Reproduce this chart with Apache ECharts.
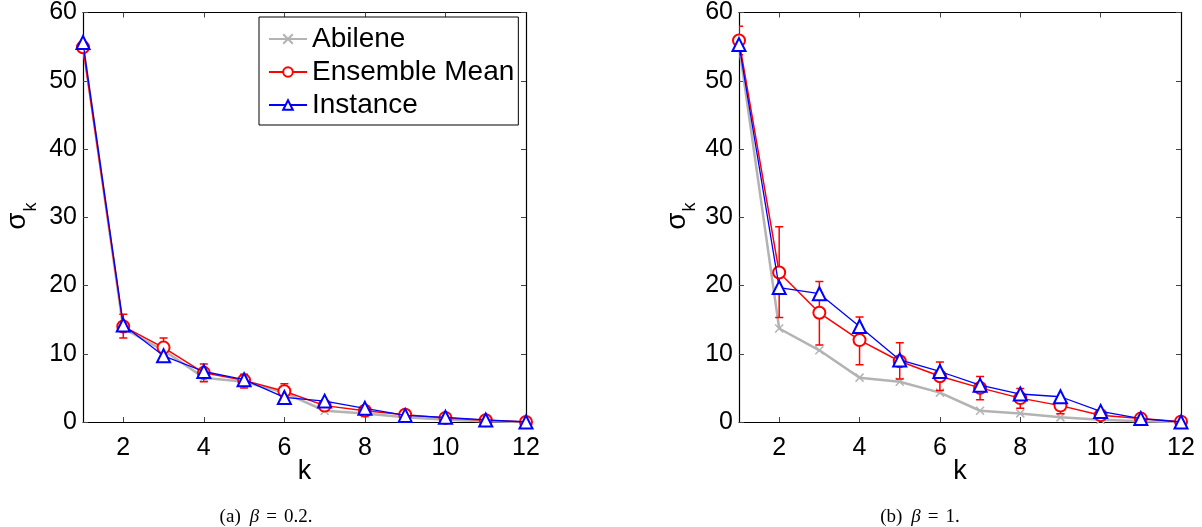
<!DOCTYPE html>
<html><head><meta charset="utf-8">
<script src="https://cdn.jsdelivr.net/npm/echarts@6/dist/echarts.min.js"></script>
<style>html,body{margin:0;padding:0;background:#fff}#c{width:1202px;height:527px}</style>
</head><body><div id="c"></div>
<script>
// ---- data ----
const kValues = [1,2,3,4,5,6,7,8,9,10,11,12];
const xTickValues = [2,4,6,8,10,12];
const xTopTickValues = [2,4,6,8,10];
const seriesNames = ['Abilene','Ensemble Mean','Instance'];
const captions = ['(a)', '0.2.', '(b)', '1.'];

const abilene   = [55.2,13.7,10.5,6.5,5.9,4.3,1.65,1.26,0.68,0.34,0.1,0];

const meanA     = [54.9,14.0,10.9,7.2,6.1,4.5,2.4,1.65,1.07,0.6,0.25,0];
const meanLowA  = [54.6,12.3,9.5,5.9,5.0,3.3,1.7,1.2,0.7,0.3,0.05,0];
const meanHighA = [55.2,15.8,12.3,8.5,7.0,5.6,3.0,2.1,1.4,0.9,0.45,0.1];
const instanceA = [55.6,14.2,9.7,7.4,6.2,3.6,3.06,2.0,0.97,0.68,0.3,0];

const meanB     = [55.9,21.9,16.0,12.0,8.9,6.7,5.0,3.5,2.4,1.0,0.5,0.05];
const meanLowB  = [53.8,15.3,11.3,8.4,6.3,4.6,3.25,2.0,1.2,0.3,0.2,0];
const meanHighB = [58.0,28.6,20.6,15.4,11.6,8.8,6.65,4.9,3.25,1.7,0.8,0.15];
const instanceB = [55.3,19.7,18.8,14.0,9.1,7.4,5.4,4.1,3.7,1.55,0.5,0];

// ---- helpers ----
const pairs = (xs, ys) => xs.map((x, i) => [x, ys[i]]);
const triples = (xs, lo, hi) => xs.map((x, i) => [x, lo[i], hi[i]]);
const FONT = 'Liberation Sans';
const GRAY = '#b3b3b3', RED = '#ff0000', BLUE = '#0000ff';

function renderErr(params, api) {
  const x = api.value(0), lo = api.value(1), hi = api.value(2);
  const a = api.coord([x, lo]), b = api.coord([x, hi]);
  const w = 4;
  const st = {stroke: RED, lineWidth: 1.5};
  return {type: 'group', children: [
    {type: 'line', shape: {x1: a[0], y1: a[1], x2: b[0], y2: b[1]}, style: st},
    {type: 'line', shape: {x1: a[0]-w, y1: a[1], x2: a[0]+w, y2: a[1]}, style: st},
    {type: 'line', shape: {x1: b[0]-w, y1: b[1], x2: b[0]+w, y2: b[1]}, style: st}
  ]};
}

const grids = [
  {left: 83, top: 12, width: 443, height: 410},
  {left: 739, top: 12, width: 442, height: 410}
];

function xAxes(gi) {
  const common = {type: 'value', gridIndex: gi, min: 1, max: 12, splitLine: {show: false},
    axisLine: {show: true, onZero: false, lineStyle: {color: '#000', width: 1.2}}};
  return [
    Object.assign({}, common, {position: 'bottom', name: 'k', nameLocation: 'middle', nameGap: 36,
      nameMoveOverlap: false,
      nameTextStyle: {fontSize: 27, fontFamily: FONT, color: '#000'},
      axisTick: {inside: true, length: 5, customValues: xTickValues, lineStyle: {color: '#444'}},
      axisLabel: {customValues: xTickValues, fontSize: 25, fontFamily: FONT, color: '#000', margin: 14}}),
    Object.assign({}, common, {position: 'top',
      axisTick: {inside: true, length: 5, customValues: xTopTickValues, lineStyle: {color: '#444'}},
      axisLabel: {show: false}})
  ];
}
function yAxes(gi) {
  const common = {type: 'value', gridIndex: gi, min: 0, max: 60, interval: 10, splitLine: {show: false},
    axisLine: {show: true, onZero: false, lineStyle: {color: '#000', width: 1.2}},
    axisTick: {inside: true, length: 5, lineStyle: {color: '#444'}}};
  return [
    Object.assign({}, common, {position: 'left',
      axisLabel: {fontSize: 25, fontFamily: FONT, color: '#000', margin: 6}}),
    Object.assign({}, common, {position: 'right', axisLabel: {show: false}})
  ];
}

function chartSeries(gi, mean, lo, hi, inst) {
  const xi = gi * 2, yi = gi * 2;
  return [
    {name: seriesNames[0], type: 'line', xAxisIndex: xi, yAxisIndex: yi, data: pairs(kValues, abilene),
      lineStyle: {color: GRAY, width: 2.5}, symbol: 'path://M0,0L10,10M10,0L0,10', symbolSize: 8,
      itemStyle: {color: GRAY, borderColor: GRAY, borderWidth: 1.5}, z: 2},
    {name: seriesNames[1], type: 'line', xAxisIndex: xi, yAxisIndex: yi, data: pairs(kValues, mean),
      lineStyle: {color: RED, width: 1.5}, symbol: 'emptyCircle', symbolSize: 12,
      itemStyle: {color: RED, borderColor: RED, borderWidth: 1.3}, z: 3},
    {type: 'custom', xAxisIndex: xi, yAxisIndex: yi, data: triples(kValues, lo, hi),
      renderItem: renderErr, encode: {x: 0, y: [1, 2]}, clip: true, z: 3, silent: true},
    {name: seriesNames[2], type: 'line', xAxisIndex: xi, yAxisIndex: yi, data: pairs(kValues, inst),
      lineStyle: {color: BLUE, width: 1.3}, symbol: 'emptyTriangle', symbolSize: 13,
      itemStyle: {color: BLUE, borderColor: BLUE, borderWidth: 1.3}, z: 4}
  ];
}

function yLabel(cx, kx) {
  return [
    {type: 'text', x: cx, y: 221, rotation: Math.PI / 2,
      style: {text: 'σ', fontSize: 28, fontFamily: FONT, fill: '#000', align: 'center', verticalAlign: 'middle'}},
    {type: 'text', x: kx, y: 207, rotation: Math.PI / 2,
      style: {text: 'k', fontSize: 18, fontFamily: FONT, fill: '#000', align: 'center', verticalAlign: 'middle'}}
  ];
}
function caption(cx, label, val) {
  return {type: 'text', x: cx, y: 517,
    style: {text: '{n|' + label + '}{g|}{i|β}{s|}{n|=}{s|}{n|' + val + '}', align: 'center', verticalAlign: 'middle',
      rich: {n: {fontSize: 19, fontFamily: 'Liberation Serif', fill: '#000'},
             g: {width: 9},
             s: {width: 7},
             i: {fontSize: 19, fontFamily: 'Liberation Serif', fontStyle: 'italic', fill: '#000'}}}};
}

const chart = echarts.init(document.getElementById('c'), null, {renderer: 'canvas'});
chart.setOption({
  animation: false,
  backgroundColor: '#fff',
  grid: grids,
  xAxis: xAxes(0).concat(xAxes(1)),
  yAxis: yAxes(0).concat(yAxes(1)),
  legend: {
    data: seriesNames, orient: 'vertical', left: 259, top: 17,
    padding: [8, 4, 6, 9], itemWidth: 38, itemHeight: 12, itemGap: 5,
    backgroundColor: '#fff', borderColor: '#000', borderWidth: 1, borderRadius: 0,
    selectedMode: false, z: 10,
    textStyle: {fontSize: 28, fontFamily: FONT, color: '#000', lineHeight: 28}
  },
  series: chartSeries(0, meanA, meanLowA, meanHighA, instanceA)
    .concat(chartSeries(1, meanB, meanLowB, meanHighB, instanceB)),
  graphic: yLabel(17.5, 31).concat(yLabel(677.5, 690)).concat([
    caption(266, captions[0], captions[1]),
    caption(920, captions[2], captions[3])
  ])
});
</script>
</body></html>
